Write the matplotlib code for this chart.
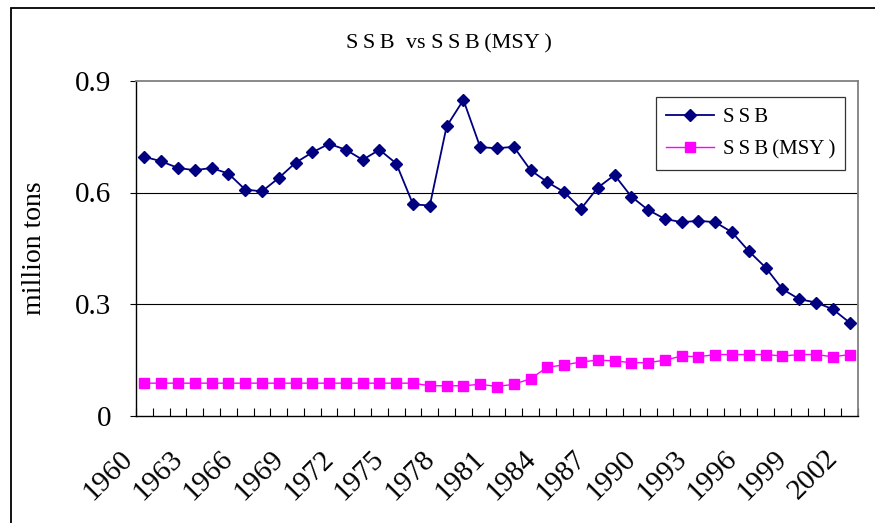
import matplotlib
matplotlib.use("Agg")
import matplotlib.pyplot as plt
import matplotlib.transforms as mtransforms
from matplotlib.patches import Rectangle

# data
years = list(range(1960, 2003))
ssb = [0.696, 0.684, 0.666, 0.660, 0.666, 0.651, 0.608, 0.603, 0.639, 0.680,
       0.708, 0.731, 0.715, 0.688, 0.715, 0.678, 0.568, 0.565, 0.778, 0.849,
       0.722, 0.719, 0.723, 0.660, 0.628, 0.601, 0.556, 0.613, 0.647, 0.589,
       0.553, 0.529, 0.520, 0.524, 0.520, 0.493, 0.442, 0.398, 0.340, 0.313,
       0.304, 0.286, 0.250]
ssb_msy = [0.087, 0.087, 0.087, 0.087, 0.087, 0.087, 0.087, 0.087, 0.087, 0.087,
           0.087, 0.087, 0.087, 0.087, 0.087, 0.087, 0.087, 0.080, 0.080, 0.080,
           0.084, 0.078, 0.084, 0.099, 0.130, 0.136, 0.144, 0.149, 0.147, 0.142,
           0.142, 0.149, 0.160, 0.158, 0.164, 0.164, 0.164, 0.164, 0.160, 0.164,
           0.164, 0.158, 0.164]
yticks = [0, 0.3, 0.6, 0.9]
ytick_labels = ["0", "0.3", "0.6", "0.9"]
label_years = years[::3]

title = "S\u2009S\u2009B  vs S\u2009S\u2009B\u2009(MSY\u2009)"
names = ["S\u2009S\u2009B", "S\u2009S\u2009B\u2009(MSY\u2009)"]

serif = ["Liberation Serif", "DejaVu Serif"]
plt.rcParams["font.family"] = serif

W, H = 875, 523
fig = plt.figure(figsize=(W / 100, H / 100), dpi=100)

# outer chart border (only left and top visible in the reference)
fig.patches.append(Rectangle((11 / W, -0.1), 2.0, 1 - 8 / H + 0.1,
                             transform=fig.transFigure, fill=False,
                             edgecolor="black", linewidth=1.3))

ax = fig.add_axes([136 / W, 1 - 415.5 / H, 722 / W, (415.5 - 81) / H])

x = list(range(len(years)))
ax.plot(x, ssb, color="#000080", linewidth=1.3, marker="D", markersize=6,
        label=names[0], zorder=4)
ax.plot(x, ssb_msy, color="#FF00FF", linewidth=1.0, marker="s", markersize=7,
        label=names[1], zorder=3)

ax.set_xlim(-0.5, len(years) - 0.5)
ax.set_ylim(0, 0.9)

# gridlines
for v in yticks[1:3]:
    ax.axhline(v, color="black", linewidth=0.8, zorder=1)

for side in ["top", "right"]:
    ax.spines[side].set_color("#808080")
    ax.spines[side].set_linewidth(1.3)
for side in ["left", "bottom"]:
    ax.spines[side].set_color("black")
    ax.spines[side].set_linewidth(1.0)

ax.set_yticks(yticks)
ax.set_yticklabels(ytick_labels, fontsize=21)
ax.tick_params(axis="y", direction="out", length=4, width=0.8, pad=14)

# category ticks between points, labels every third year
ax.set_xticks([i - 0.5 for i in range(len(years) + 1)], minor=True)
ax.set_xticks([years.index(y) for y in label_years])
ax.set_xticklabels([str(y) for y in label_years], fontsize=21, rotation=45,
                   ha="right", va="center", rotation_mode="anchor")
ax.tick_params(axis="x", which="minor", direction="in", length=6, width=0.8)
ax.tick_params(axis="x", which="major", length=0, pad=28)
offset = mtransforms.ScaledTranslation(-16 / 100, 0, fig.dpi_scale_trans)
for lab in ax.get_xticklabels():
    lab.set_transform(lab.get_transform() + offset)

ax.set_ylabel("million tons", fontsize=20)
ax.yaxis.set_label_coords(47 / W, (H - 248) / H, transform=fig.transFigure)

fig.text(449 / W, 1 - 44 / H, title, fontsize=16, ha="center", va="center")

leg = ax.legend(loc="upper left", bbox_to_anchor=(656 / W, 1 - 97 / H),
                bbox_transform=fig.transFigure, fontsize=15, frameon=True,
                fancybox=False, shadow=False, handlelength=2.3,
                labelspacing=0.6, borderpad=0.5, handletextpad=0.4,
                borderaxespad=0)
leg.get_frame().set_edgecolor("black")
leg.get_frame().set_linewidth(0.9)

fig.savefig("out.png", dpi=100)
